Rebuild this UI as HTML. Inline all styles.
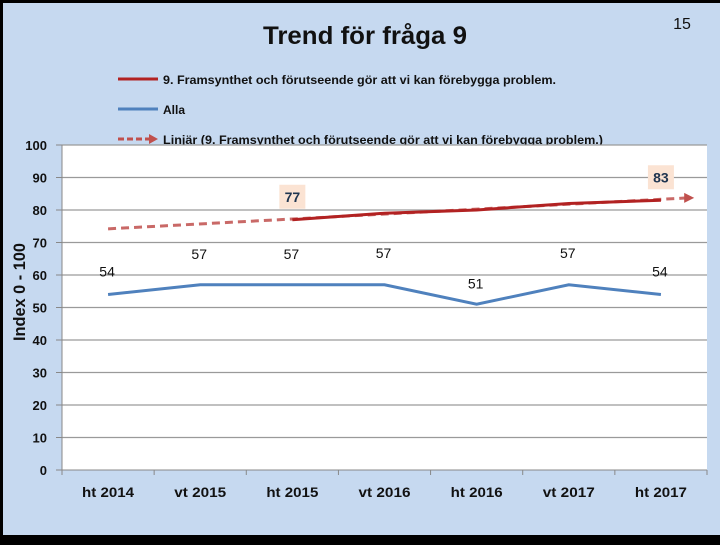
<!DOCTYPE html>
<html><head><meta charset="utf-8"><style>
html,body{margin:0;padding:0;background:#000;}
#wrap{position:absolute;left:0;top:0;width:720px;height:540px;}
svg text{font-family:"Liberation Sans",sans-serif;}
</style></head><body>
<div id="wrap">
<svg id="chart" width="720" height="540" xmlns="http://www.w3.org/2000/svg">
<rect x="3" y="3" width="717" height="532" fill="#c6d9f0"/>
<text x="365" y="44" font-size="25" font-weight="bold" text-anchor="middle" fill="#111" textLength="204" lengthAdjust="spacingAndGlyphs">Trend för fråga 9</text>
<text x="682" y="29" font-size="16" text-anchor="middle" fill="#111">15</text>
<g>
<line x1="118" y1="79" x2="158" y2="79" stroke="#b22222" stroke-width="3"/>
<text x="163" y="84" font-size="12" font-weight="bold" fill="#111" textLength="393" lengthAdjust="spacingAndGlyphs">9.   Framsynthet och förutseende gör att vi kan förebygga problem.</text>
<line x1="118" y1="109" x2="158" y2="109" stroke="#4f81bd" stroke-width="3"/>
<text x="163" y="114" font-size="12" font-weight="bold" fill="#111">Alla</text>
<line x1="118" y1="139" x2="150" y2="139" stroke="#c0504d" stroke-width="3" stroke-dasharray="6,3"/>
<polygon points="149,134 158,139 149,144" fill="#c0504d"/>
<text x="163" y="144" font-size="12" font-weight="bold" fill="#111" textLength="440" lengthAdjust="spacingAndGlyphs">Linjär (9.   Framsynthet och förutseende gör att vi kan förebygga problem.)</text>
</g>
<rect x="62" y="145" width="645" height="325" fill="#fff"/>
<g id="grid"></g>
<g id="axes"></g>
<g id="series"></g>
<text transform="translate(25,292) rotate(-90)" font-size="17" font-weight="bold" text-anchor="middle" fill="#111" textLength="98" lengthAdjust="spacingAndGlyphs">Index 0 - 100</text>
<rect x="0" y="0" width="720" height="3" fill="#000"/>
<rect x="0" y="0" width="3" height="540" fill="#000"/>
<rect x="0" y="535" width="720" height="5" fill="#000"/>
</svg>
</div>
<script>
const categories = ["ht 2014","vt 2015","ht 2015","vt 2016","ht 2016","vt 2017","ht 2017"];
const allaValues = [54,57,57,57,51,57,54];
const questionValues = [null,null,77,79,80,82,83];
const yTicks = [0,10,20,30,40,50,60,70,80,90,100];

const NS="http://www.w3.org/2000/svg";
const X0=62,X1=707,Y0=470,Y1=145;
const step=(X1-X0)/categories.length;
const xs=i=>X0+step*(i+0.5);
const ys=v=>Y0-(v/100)*(Y0-Y1);
function mk(tag,attrs,parent,text){const e=document.createElementNS(NS,tag);for(const k in attrs)e.setAttribute(k,attrs[k]);if(text!==undefined)e.textContent=text;parent.appendChild(e);return e;}
const grid=document.getElementById('grid'),axes=document.getElementById('axes'),ser=document.getElementById('series');
yTicks.forEach(t=>{
  const y=ys(t);
  if(t>0){const g=mk('line',{x1:X0,x2:X1,y1:y,y2:y,stroke:'#9a9a9a','stroke-width':1.2},grid);
  
  }
  const tk=mk('line',{x1:56,x2:X0,y1:y,y2:y,stroke:'#888'},axes);
  
  
  const lb=mk('text',{x:47,y:y+5,'font-size':13,'font-weight':'bold','text-anchor':'end',fill:'#111'},axes,String(t));
  
  
});
const ya=mk('line',{x1:X0,x2:X0,y1:Y1,y2:Y0,stroke:'#888'},axes);


const xa=mk('line',{x1:X0,x2:X1,y1:Y0,y2:Y0,stroke:'#888'},axes);


for(let i=0;i<=categories.length;i++){const x=X0+step*i;const t=mk('line',{x1:x,x2:x,y1:Y0,y2:Y0+5,stroke:'#888'},axes);

}
categories.forEach((c,i)=>{const t=mk('text',{x:xs(i),y:497,'font-size':14,'font-weight':'bold','text-anchor':'middle',fill:'#111',textLength:52,lengthAdjust:'spacingAndGlyphs'},axes,c);

});
const pts=questionValues.map((v,i)=>[i,v]).filter(p=>p[1]!==null);
const n=pts.length,mx=pts.reduce((a,p)=>a+p[0],0)/n,my=pts.reduce((a,p)=>a+p[1],0)/n;
const slope=pts.reduce((a,p)=>a+(p[0]-mx)*(p[1]-my),0)/pts.reduce((a,p)=>a+(p[0]-mx)**2,0);
const f=i=>my+slope*(i-mx);
const tEnd=6.35;
const tl=mk('line',{x1:xs(0),y1:ys(f(0)),x2:xs(tEnd)-6,y2:ys(f(tEnd)),stroke:'#c0504d','stroke-width':3,'stroke-dasharray':'8,5',opacity:0.85},ser);


const ax=xs(tEnd),ay=ys(f(tEnd));
const ar=mk('polygon',{points:`${ax-9},${ay-5} ${ax+1},${ay} ${ax-9},${ay+5}`,fill:'#c0504d'},ser);


const qp=pts.map(p=>xs(p[0])+','+ys(p[1])).join(' ');
const ql=mk('polyline',{points:qp,fill:'none',stroke:'#b22222','stroke-width':3},ser);


const ap=allaValues.map((v,i)=>xs(i)+','+ys(v)).join(' ');
const al=mk('polyline',{points:ap,fill:'none',stroke:'#4f81bd','stroke-width':3},ser);


const allaLabelDy=[-18,-26,-26,-27,-16,-27,-18];
allaValues.forEach((v,i)=>{const t=mk('text',{x:xs(i)-1,y:ys(v)+allaLabelDy[i],'font-size':14,'text-anchor':'middle',fill:'#111'},ser,String(v));

});
[pts[0],pts[pts.length-1]].forEach((p,k)=>{const x=xs(p[0]),y=ys(p[1])-23;
const r=mk('rect',{x:x-13,y:y-12,width:26,height:24,fill:'#fbe3d3'},ser);


const t=mk('text',{x:x,y:y+5,'font-size':14,'font-weight':'bold','text-anchor':'middle',fill:'#1f3550'},ser,String(p[1]));

});
</script>
</body></html>
